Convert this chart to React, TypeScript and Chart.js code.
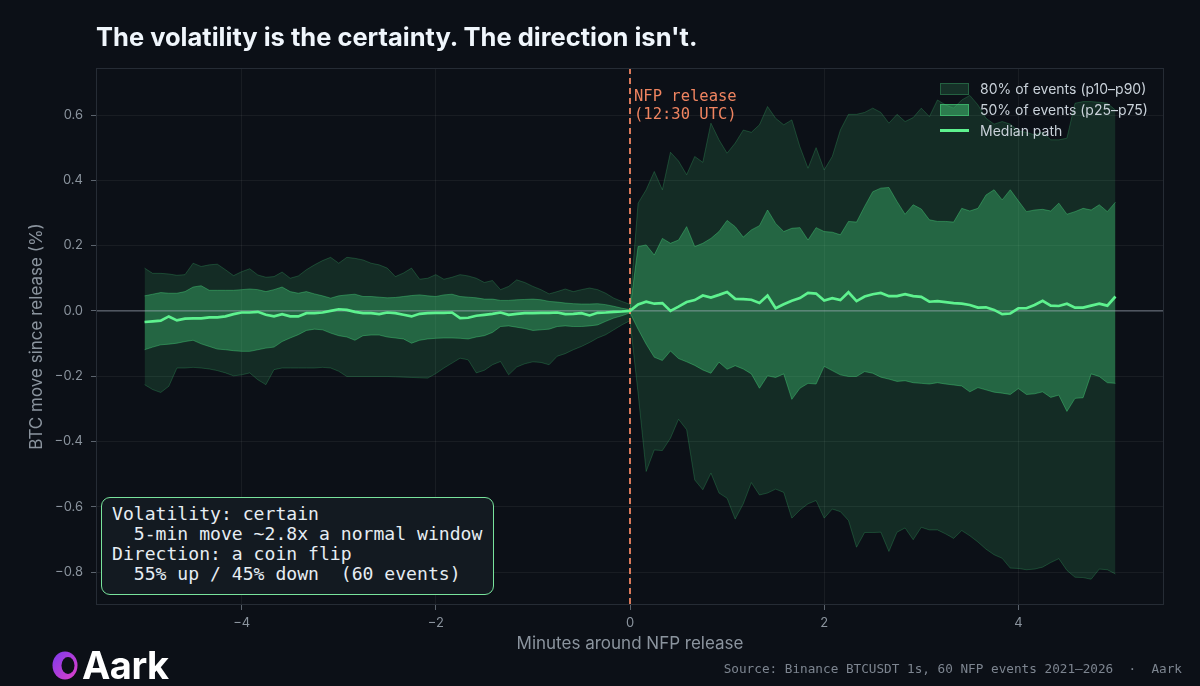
import { useEffect, useRef } from "react";
import { Chart, registerables } from "chart.js";

Chart.register(...registerables);

// ---- time grid: 5-second bins from -5 min to +5 min ----
const START_SECONDS = -300;
const STEP_SECONDS = 5;

// ---- series (percent move since release) ----
const P90 = [
  0.131, 0.115, 0.115, 0.113, 0.109, 0.111, 0.146, 0.136, 0.141, 0.143, 0.126, 0.108, 0.120, 0.129, 0.110, 0.103,
  0.105, 0.119, 0.100, 0.107, 0.126, 0.141, 0.154, 0.164, 0.146, 0.164, 0.161, 0.156, 0.146, 0.141, 0.131,
  0.105, 0.116, 0.131, 0.097, 0.100, 0.111, 0.097, 0.103, 0.111, 0.107, 0.100, 0.087, 0.093, 0.065, 0.075,
  0.095, 0.087, 0.075, 0.065, 0.052, 0.059, 0.067, 0.059, 0.065, 0.070, 0.065, 0.054, 0.039, 0.029, 0.020,
  0.330, 0.371, 0.427, 0.371, 0.486, 0.459, 0.417, 0.473, 0.455, 0.575, 0.524, 0.483, 0.514, 0.554, 0.547,
  0.570, 0.626, 0.590, 0.570, 0.585, 0.503, 0.437, 0.500, 0.432, 0.473, 0.554, 0.602, 0.602, 0.608, 0.621,
  0.608, 0.575, 0.602, 0.580, 0.592, 0.621, 0.595, 0.646, 0.631, 0.621, 0.646, 0.660, 0.631, 0.590, 0.572,
  0.580, 0.572, 0.551, 0.547, 0.539, 0.547, 0.524, 0.524, 0.529, 0.636, 0.641, 0.641, 0.639, 0.636, 0.615,
];

const P75 = [
  0.046, 0.051, 0.056, 0.054, 0.054, 0.059, 0.073, 0.077, 0.063, 0.063, 0.063, 0.063, 0.065, 0.067, 0.065, 0.059,
  0.065, 0.073, 0.059, 0.054, 0.059, 0.052, 0.046, 0.039, 0.046, 0.049, 0.051, 0.044, 0.044, 0.042, 0.040,
  0.041, 0.044, 0.047, 0.049, 0.046, 0.044, 0.049, 0.051, 0.044, 0.042, 0.040, 0.036, 0.036, 0.032, 0.032,
  0.034, 0.035, 0.036, 0.034, 0.029, 0.027, 0.024, 0.022, 0.021, 0.021, 0.022, 0.019, 0.014, 0.008, 0.004,
  0.197, 0.202, 0.171, 0.222, 0.207, 0.217, 0.258, 0.197, 0.207, 0.222, 0.243, 0.277, 0.258, 0.226, 0.248,
  0.261, 0.309, 0.268, 0.243, 0.253, 0.255, 0.217, 0.255, 0.243, 0.241, 0.233, 0.274, 0.272, 0.320, 0.365,
  0.376, 0.378, 0.335, 0.296, 0.325, 0.312, 0.279, 0.274, 0.274, 0.272, 0.314, 0.306, 0.314, 0.355, 0.371,
  0.340, 0.371, 0.337, 0.304, 0.309, 0.311, 0.306, 0.330, 0.296, 0.304, 0.314, 0.309, 0.325, 0.304, 0.333,
];

const MEDIAN = [
  -0.034, -0.032, -0.030, -0.017, -0.029, -0.024, -0.023, -0.023, -0.020, -0.020, -0.017, -0.010, -0.005, -0.005,
  -0.003, -0.012, -0.017, -0.010, -0.017, -0.017, -0.007, -0.007, -0.005, 0.000, 0.005, 0.003, -0.003, -0.007,
  -0.007, -0.010, -0.005,
  -0.007, -0.012, -0.017, -0.009, -0.007, -0.006, -0.006, -0.005, -0.022, -0.021, -0.015, -0.012, -0.009, -0.005,
  -0.012, -0.009, -0.007, -0.007, -0.006, -0.006, -0.005, -0.010, -0.009, -0.007, -0.014, -0.006, -0.005, -0.003,
  -0.002, 0.000,
  0.020, 0.028, 0.022, 0.024, 0.000, 0.013, 0.027, 0.033, 0.047, 0.041, 0.049, 0.058, 0.037, 0.036, 0.034,
  0.024, 0.047, 0.008, 0.020, 0.031, 0.039, 0.055, 0.053, 0.032, 0.039, 0.033, 0.057, 0.030, 0.044, 0.051,
  0.055, 0.045, 0.045, 0.051, 0.045, 0.043, 0.028, 0.030, 0.027, 0.024, 0.022, 0.018, 0.010, 0.011, 0.003,
  -0.010, -0.008, 0.008, 0.008, 0.018, 0.031, 0.016, 0.015, 0.022, 0.010, 0.010, 0.016, 0.022, 0.016, 0.044,
];

const P25 = [
  -0.119, -0.111, -0.104, -0.102, -0.099, -0.094, -0.090, -0.101, -0.109, -0.117, -0.119, -0.122, -0.124, -0.124,
  -0.119, -0.114, -0.111, -0.094, -0.083, -0.073, -0.060, -0.056, -0.058, -0.068, -0.076, -0.080, -0.090, -0.076,
  -0.074, -0.074, -0.080,
  -0.083, -0.086, -0.099, -0.090, -0.086, -0.084, -0.083, -0.083, -0.084, -0.086, -0.080, -0.076, -0.066, -0.048,
  -0.046, -0.050, -0.054, -0.060, -0.058, -0.056, -0.048, -0.046, -0.048, -0.048, -0.046, -0.043, -0.032, -0.022,
  -0.015, -0.006,
  -0.056, -0.102, -0.142, -0.152, -0.123, -0.146, -0.156, -0.167, -0.181, -0.191, -0.157, -0.179, -0.168, -0.178,
  -0.193, -0.237, -0.199, -0.204, -0.193, -0.271, -0.237, -0.222, -0.224, -0.170, -0.183, -0.196, -0.201, -0.201,
  -0.186, -0.191,
  -0.203, -0.209, -0.216, -0.214, -0.220, -0.222, -0.224, -0.220, -0.224, -0.227, -0.230, -0.248, -0.235, -0.242,
  -0.249, -0.252, -0.256, -0.238, -0.256, -0.254, -0.248, -0.265, -0.258, -0.308, -0.268, -0.266, -0.193, -0.201,
  -0.220, -0.222,
];

const P10 = [
  -0.226, -0.241, -0.250, -0.231, -0.175, -0.175, -0.173, -0.175, -0.178, -0.183, -0.190, -0.199, -0.196, -0.190,
  -0.211, -0.226, -0.180, -0.175, -0.175, -0.175, -0.175, -0.175, -0.173, -0.175, -0.185, -0.201, -0.201, -0.201,
  -0.201, -0.201, -0.201,
  -0.202, -0.203, -0.204, -0.205, -0.206, -0.192, -0.175, -0.160, -0.145, -0.150, -0.190, -0.182, -0.165, -0.155,
  -0.196, -0.172, -0.162, -0.156, -0.158, -0.165, -0.139, -0.131, -0.119, -0.109, -0.097, -0.083, -0.073, -0.058,
  -0.043, -0.030,
  -0.252, -0.492, -0.426, -0.428, -0.390, -0.332, -0.364, -0.518, -0.548, -0.497, -0.558, -0.574, -0.638, -0.591,
  -0.526, -0.564, -0.558, -0.546, -0.556, -0.635, -0.610, -0.591, -0.581, -0.635, -0.607, -0.615, -0.642, -0.724,
  -0.679, -0.679,
  -0.678, -0.737, -0.678, -0.665, -0.701, -0.663, -0.671, -0.671, -0.683, -0.697, -0.673, -0.689, -0.708, -0.730,
  -0.747, -0.758, -0.788, -0.789, -0.793, -0.791, -0.785, -0.771, -0.759, -0.795, -0.816, -0.817, -0.822, -0.791,
  -0.793, -0.806,
];

const X_TICKS = [-4, -2, 0, 2, 4];
const Y_TICKS = [-0.8, -0.6, -0.4, -0.2, 0, 0.2, 0.4, 0.6];
const RELEASE_MINUTE = 0;

const LEGEND_LABELS = ["80% of events (p10\u2013p90)", "50% of events (p25\u2013p75)", "Median path"];
const INFO_LINES = [
  "Volatility: certain",
  "  5-min move ~2.8x a normal window",
  "Direction: a coin flip",
  "  55% up / 45% down  (60 events)",
];
const TITLE = "The volatility is the certainty. The direction isn't.";
const SOURCE = "Source: Binance BTCUSDT 1s, 60 NFP events 2021\u20132026  \u00b7  Aark";
const NFP_LABEL = ["NFP release", "(12:30 UTC)"];

const BG = "#0c1017";
const GREEN = "74,222,128";
const MEDIAN_COLOR = "#5ef28f";
const CORAL = "#ef8460";
const AXIS_TEXT = "#8b949e";

const fmtMinus = (v: number, digits: number) => {
  const s = Math.abs(v).toFixed(digits);
  return v < -1e-9 ? "\u2212" + s : s;
};

export default function App() {
  const canvasRef = useRef<HTMLCanvasElement | null>(null);

  useEffect(() => {
    document.body.style.margin = "0";
    document.body.style.background = BG;
    const canvas = canvasRef.current;
    if (!canvas) return;

    const minutes = P90.map((_, i) => (START_SECONDS + i * STEP_SECONDS) / 60);
    const pts = (arr: number[]) => arr.map((y, i) => ({ x: minutes[i], y }));

    const overlayPlugin = {
      id: "overlay",
      beforeDatasetDraw(chart: any, args: any) {
        if (args.index !== 4) return;
        const { ctx, chartArea, scales } = chart;
        const y0 = scales.y.getPixelForValue(0);
        const xr = scales.x.getPixelForValue(RELEASE_MINUTE);
        ctx.save();
        ctx.strokeStyle = "rgba(160,172,186,0.55)";
        ctx.lineWidth = 1.2;
        ctx.beginPath();
        ctx.moveTo(chartArea.left, y0);
        ctx.lineTo(chartArea.right, y0);
        ctx.stroke();
        ctx.strokeStyle = CORAL;
        ctx.lineWidth = 1.8;
        ctx.setLineDash([6, 4]);
        ctx.beginPath();
        ctx.moveTo(xr, chartArea.top);
        ctx.lineTo(xr, chartArea.bottom);
        ctx.stroke();
        ctx.restore();
      },
      afterDraw(chart: any) {
        const { ctx, chartArea, scales } = chart;
        const xr = scales.x.getPixelForValue(RELEASE_MINUTE);
        ctx.save();
        ctx.strokeStyle = "#262c35";
        ctx.lineWidth = 1;
        ctx.strokeRect(chartArea.left + 0.5, chartArea.top + 0.5, chartArea.width - 1, chartArea.height - 1);
        ctx.fillStyle = CORAL;
        ctx.font = '15.5px "DejaVu Sans Mono", monospace';
        ctx.textBaseline = "alphabetic";
        ctx.textAlign = "left";
        ctx.fillText(NFP_LABEL[0], xr + 4, 100.5);
        ctx.fillText(NFP_LABEL[1], xr + 4, 118.5);
        ctx.restore();
      },
    };

    const chart = new Chart(canvas, {
      type: "line",
      data: {
        datasets: [
          {
            label: LEGEND_LABELS[0],
            data: pts(P90),
            borderColor: `rgba(${GREEN},0.22)`,
            borderWidth: 1,
            backgroundColor: `rgba(${GREEN},0.14)`,
            fill: 1,
            pointRadius: 0,
            tension: 0,
            order: 5,
          },
          {
            label: "p10",
            data: pts(P10),
            borderColor: `rgba(${GREEN},0.22)`,
            borderWidth: 1,
            fill: false,
            pointRadius: 0,
            tension: 0,
            order: 5,
          },
          {
            label: LEGEND_LABELS[1],
            data: pts(P75),
            borderColor: `rgba(${GREEN},0.38)`,
            borderWidth: 1,
            backgroundColor: `rgba(${GREEN},0.33)`,
            fill: 3,
            pointRadius: 0,
            tension: 0,
            order: 3,
          },
          {
            label: "p25",
            data: pts(P25),
            borderColor: `rgba(${GREEN},0.38)`,
            borderWidth: 1,
            fill: false,
            pointRadius: 0,
            tension: 0,
            order: 3,
          },
          {
            label: LEGEND_LABELS[2],
            data: pts(MEDIAN),
            borderColor: MEDIAN_COLOR,
            borderWidth: 2.7,
            fill: false,
            pointRadius: 0,
            tension: 0,
            order: 1,
          },
        ],
      },
      options: {
        responsive: false,
        animation: false,
        events: [],
        layout: { padding: { left: 0, top: 68, right: 36, bottom: 20 } },
        plugins: {
          legend: { display: false },
          tooltip: { enabled: false },
          title: { display: false },
        },
        scales: {
          x: {
            type: "linear",
            min: -5.5,
            max: 5.5,
            afterFit: (s: any) => {
              s.height = 61;
            },
            afterBuildTicks: (s: any) => {
              s.ticks = X_TICKS.map((v) => ({ value: v }));
            },
            grid: {
              color: "rgba(255,255,255,0.055)",
              tickColor: "#5b636d",
              tickLength: 5,
              drawTicks: true,
            },
            border: { display: false },
            ticks: {
              color: AXIS_TEXT,
              font: { family: "Inter", size: 13 },
              padding: 5,
              maxRotation: 0,
              callback: (v: any) => fmtMinus(Number(v), 0),
            },
            title: {
              display: true,
              text: "Minutes around NFP release",
              color: AXIS_TEXT,
              font: { family: "Inter", size: 17 },
              padding: { top: 0, bottom: 12 },
            },
          },
          y: {
            type: "linear",
            min: -0.901,
            max: 0.744,
            afterFit: (s: any) => {
              s.width = 96;
            },
            afterBuildTicks: (s: any) => {
              s.ticks = Y_TICKS.map((v) => ({ value: v }));
            },
            grid: {
              color: "rgba(255,255,255,0.055)",
              tickColor: "#5b636d",
              tickLength: 5,
              drawTicks: true,
            },
            border: { display: false },
            ticks: {
              color: AXIS_TEXT,
              font: { family: "Inter", size: 13 },
              padding: 8,
              callback: (v: any) => fmtMinus(Number(v), 1),
            },
            title: {
              display: true,
              text: "BTC move since release (%)",
              color: AXIS_TEXT,
              font: { family: "Inter", size: 17 },
              padding: { top: 27, bottom: 0 },
            },
          },
        },
      },
      plugins: [overlayPlugin],
    } as any);

    return () => chart.destroy();
  }, []);

  const mono = '"DejaVu Sans Mono", "Liberation Mono", monospace';

  return (
    <div
      style={{
        position: "absolute",
        left: 0,
        top: 0,
        width: 1200,
        height: 686,
        background: BG,
        overflow: "hidden",
        fontFamily: "Inter, sans-serif",
      }}
    >
      <canvas ref={canvasRef} width={1200} height={686} style={{ position: "absolute", left: 0, top: 0, width: 1200, height: 686 }} />

      <div
        style={{
          position: "absolute",
          left: 96,
          top: 21,
          fontSize: 25.5,
          fontWeight: 700,
          color: "#f0f6fc",
          whiteSpace: "nowrap",
          letterSpacing: 0,
        }}
      >
        {TITLE}
      </div>

      {/* legend */}
      <div style={{ position: "absolute", left: 940, top: 78, color: "#c9d1d9", fontSize: 14 }}>
        {LEGEND_LABELS.map((lab, i) => (
          <div key={lab} style={{ display: "flex", alignItems: "center", height: 21 }}>
            <div style={{ width: 29, height: 14, display: "flex", alignItems: "center", marginRight: 11 }}>
              {i === 0 && (
                <div style={{ width: 27, height: 10, background: `rgba(${GREEN},0.16)`, border: `1px solid rgba(${GREEN},0.28)` }} />
              )}
              {i === 1 && (
                <div style={{ width: 27, height: 10, background: `rgba(${GREEN},0.45)`, border: `1px solid rgba(${GREEN},0.5)` }} />
              )}
              {i === 2 && <div style={{ width: 29, height: 3, background: MEDIAN_COLOR }} />}
            </div>
            <span style={{ whiteSpace: "nowrap" }}>{lab}</span>
          </div>
        ))}
      </div>

      {/* info box */}
      <div
        style={{
          position: "absolute",
          left: 101,
          top: 497,
          width: 391,
          height: 96,
          border: "1.5px solid #78e39c",
          borderRadius: 9,
          background: "#131a21",
          boxSizing: "content-box",
        }}
      >
        <div
          style={{
            position: "absolute",
            left: 10,
            top: 6,
            fontFamily: mono,
            fontSize: 18.1,
            lineHeight: "20px",
            color: "#e6edf3",
            whiteSpace: "pre",
          }}
        >
          {INFO_LINES.join("\n")}
        </div>
      </div>

      {/* logo */}
      <div style={{ position: "absolute", left: 52, top: 647, display: "flex", alignItems: "center" }}>
        <svg width="27" height="30" viewBox="0 0 27 30">
          <defs>
            <linearGradient id="aarkg" x1="0" y1="0" x2="1" y2="1">
              <stop offset="0" stopColor="#7c3aed" />
              <stop offset="1" stopColor="#e040c8" />
            </linearGradient>
          </defs>
          <ellipse cx="13" cy="15.5" rx="12.5" ry="14" fill="url(#aarkg)" />
          <ellipse cx="16" cy="15.5" rx="6.5" ry="8.5" fill={BG} />
        </svg>
        <span
          style={{
            marginLeft: 3,
            fontSize: 38,
            fontWeight: 700,
            color: "#ffffff",
            lineHeight: "36px",
            letterSpacing: -0.5,
          }}
        >
          Aark
        </span>
      </div>

      {/* source */}
      <div
        style={{
          position: "absolute",
          right: 18,
          top: 661,
          fontFamily: mono,
          fontSize: 12.7,
          color: "#7d8590",
          whiteSpace: "pre",
        }}
      >
        {SOURCE}
      </div>
    </div>
  );
}
